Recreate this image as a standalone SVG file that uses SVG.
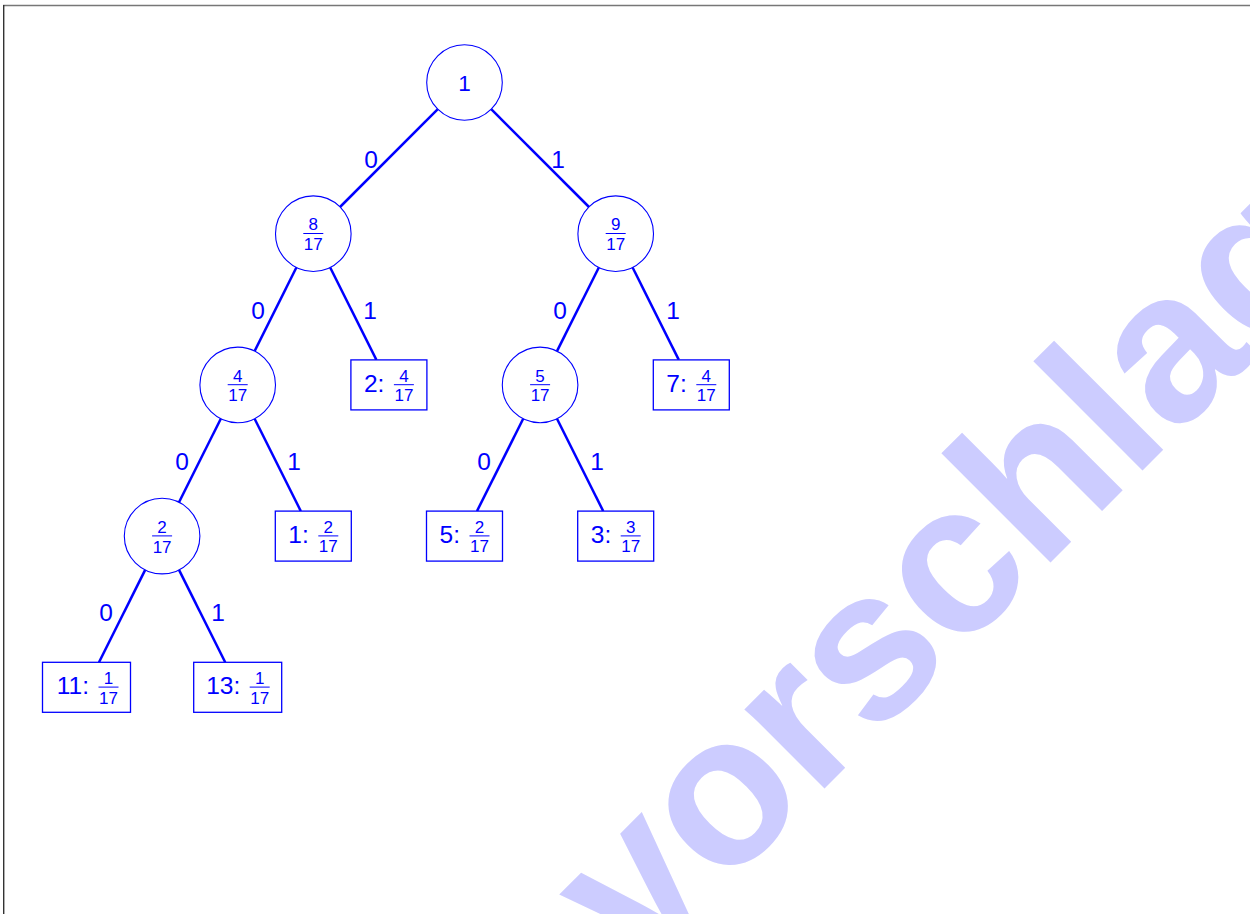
<svg xmlns="http://www.w3.org/2000/svg" width="1250" height="914" viewBox="0 0 1250 914">
  <style>
    .edge { stroke: #0000ff; stroke-width: 2.5; fill: none; stroke-linecap: butt; }
    .inner { fill: #ffffff; stroke: #0000ff; stroke-width: 1.1; }
    .leaf { fill: #ffffff; stroke: #0000ff; stroke-width: 1.3; }
    .lbl { font-family: "Liberation Sans", Arial, sans-serif; font-size: 24.5px; fill: #0000ff; text-anchor: middle; }
    .num { font-family: "Liberation Sans", Arial, sans-serif; font-size: 24.5px; fill: #0000ff; text-anchor: end; }
    .fr { font-family: "Liberation Sans", Arial, sans-serif; font-size: 17px; fill: #0000ff; text-anchor: middle; }
    .bar { stroke: #0000ff; stroke-width: 1; }
    .wm { font-family: "Liberation Sans", Arial, sans-serif; font-weight: bold; font-size: 213px; fill: #ccccff; }
  </style>

  <rect x="0" y="0" width="1250" height="914" fill="#ffffff"/>

  <!-- watermark -->
  <text class="wm" transform="translate(10.6,1602.4) rotate(-45)">Lösungsvorschlag</text>

  <!-- page frame -->
  <line x1="3" y1="5.5" x2="1250" y2="5.5" stroke="#777777" stroke-width="1.6"/>
  <line x1="3.7" y1="5" x2="3.7" y2="914" stroke="#333333" stroke-width="1.4"/>

  <!-- connectors -->
  <g id="edges">
    <line class="edge" x1="437.8" y1="109.2" x2="340.0" y2="207.0"/>
    <line class="edge" x1="491.2" y1="109.2" x2="589.0" y2="207.0"/>
    <line class="edge" x1="296.4" y1="267.5" x2="254.6" y2="351.1"/>
    <line class="edge" x1="330.2" y1="267.5" x2="376.4" y2="359.9"/>
    <line class="edge" x1="598.8" y1="267.5" x2="557.0" y2="351.1"/>
    <line class="edge" x1="632.6" y1="267.5" x2="678.8" y2="359.9"/>
    <line class="edge" x1="220.8" y1="418.7" x2="179.0" y2="502.3"/>
    <line class="edge" x1="254.6" y1="418.7" x2="300.8" y2="511.1"/>
    <line class="edge" x1="523.2" y1="418.7" x2="477.0" y2="511.1"/>
    <line class="edge" x1="557.0" y1="418.7" x2="603.2" y2="511.1"/>
    <line class="edge" x1="145.2" y1="569.9" x2="99.0" y2="662.3"/>
    <line class="edge" x1="179.0" y1="569.9" x2="225.2" y2="662.3"/>
    <!-- bit labels -->
    <text class="lbl" x="371" y="167.6">0</text>
    <text class="lbl" x="558" y="167.6">1</text>
    <text class="lbl" x="258" y="318.8">0</text>
    <text class="lbl" x="370" y="318.8">1</text>
    <text class="lbl" x="560" y="318.8">0</text>
    <text class="lbl" x="673" y="318.8">1</text>
    <text class="lbl" x="182" y="470">0</text>
    <text class="lbl" x="294" y="470">1</text>
    <text class="lbl" x="484" y="470">0</text>
    <text class="lbl" x="597" y="470">1</text>
    <text class="lbl" x="106" y="621.2">0</text>
    <text class="lbl" x="218" y="621.2">1</text>
  </g>

  <!-- inner nodes -->
  <g id="root">
    <circle class="inner" cx="464.5" cy="82.5" r="37.8"/>
    <text class="lbl" x="464.5" y="91" style="font-size:22.5px">1</text>
  </g>
  <g id="n8">
    <circle class="inner" cx="313.3" cy="233.7" r="37.8"/>
    <text class="fr" x="313.3" y="230.3">8</text>
    <line class="bar" x1="303.3" y1="233.5" x2="323.3" y2="233.5"/>
    <text class="fr" x="313.3" y="250.2">17</text>
  </g>
  <g id="n9">
    <circle class="inner" cx="615.7" cy="233.7" r="37.8"/>
    <text class="fr" x="615.7" y="230.3">9</text>
    <line class="bar" x1="605.7" y1="233.5" x2="625.7" y2="233.5"/>
    <text class="fr" x="615.7" y="250.2">17</text>
  </g>
  <g id="n4">
    <circle class="inner" cx="237.7" cy="384.9" r="37.8"/>
    <text class="fr" x="237.7" y="381.5">4</text>
    <line class="bar" x1="227.7" y1="384.7" x2="247.7" y2="384.7"/>
    <text class="fr" x="237.7" y="401.4">17</text>
  </g>
  <g id="n5">
    <circle class="inner" cx="540.1" cy="384.9" r="37.8"/>
    <text class="fr" x="540.1" y="381.5">5</text>
    <line class="bar" x1="530.1" y1="384.7" x2="550.1" y2="384.7"/>
    <text class="fr" x="540.1" y="401.4">17</text>
  </g>
  <g id="n2">
    <circle class="inner" cx="162.1" cy="536.1" r="37.8"/>
    <text class="fr" x="162.1" y="532.7">2</text>
    <line class="bar" x1="152.1" y1="535.9" x2="172.1" y2="535.9"/>
    <text class="fr" x="162.1" y="552.6">17</text>
  </g>

  <!-- leaves -->
  <g id="leaf2">
    <rect class="leaf" x="350.9" y="359.9" width="76" height="50"/>
    <text class="num" x="384.4" y="392">2:</text>
    <text class="fr" x="403.9" y="381.7">4</text>
    <line class="bar" x1="393.9" y1="384.7" x2="413.9" y2="384.7"/>
    <text class="fr" x="403.9" y="401.2">17</text>
  </g>
  <g id="leaf7">
    <rect class="leaf" x="653.3" y="359.9" width="76" height="50"/>
    <text class="num" x="686.8" y="392">7:</text>
    <text class="fr" x="706.3" y="381.7">4</text>
    <line class="bar" x1="696.3" y1="384.7" x2="716.3" y2="384.7"/>
    <text class="fr" x="706.3" y="401.2">17</text>
  </g>
  <g id="leaf1">
    <rect class="leaf" x="275.3" y="511.1" width="76" height="50"/>
    <text class="num" x="308.8" y="543.2">1:</text>
    <text class="fr" x="328.3" y="532.9">2</text>
    <line class="bar" x1="318.3" y1="535.9" x2="338.3" y2="535.9"/>
    <text class="fr" x="328.3" y="552.4">17</text>
  </g>
  <g id="leaf5">
    <rect class="leaf" x="426.5" y="511.1" width="76" height="50"/>
    <text class="num" x="460" y="543.2">5:</text>
    <text class="fr" x="479.5" y="532.9">2</text>
    <line class="bar" x1="469.5" y1="535.9" x2="489.5" y2="535.9"/>
    <text class="fr" x="479.5" y="552.4">17</text>
  </g>
  <g id="leaf3">
    <rect class="leaf" x="577.7" y="511.1" width="76" height="50"/>
    <text class="num" x="611.2" y="543.2">3:</text>
    <text class="fr" x="630.7" y="532.9">3</text>
    <line class="bar" x1="620.7" y1="535.9" x2="640.7" y2="535.9"/>
    <text class="fr" x="630.7" y="552.4">17</text>
  </g>
  <g id="leaf11">
    <rect class="leaf" x="42.5" y="662.3" width="88" height="50"/>
    <text class="num" x="89" y="694.4">11:</text>
    <text class="fr" x="108.5" y="684.1">1</text>
    <line class="bar" x1="98.5" y1="687.1" x2="118.5" y2="687.1"/>
    <text class="fr" x="108.5" y="703.6">17</text>
  </g>
  <g id="leaf13">
    <rect class="leaf" x="193.7" y="662.3" width="88" height="50"/>
    <text class="num" x="240.2" y="694.4">13:</text>
    <text class="fr" x="259.7" y="684.1">1</text>
    <line class="bar" x1="249.7" y1="687.1" x2="269.7" y2="687.1"/>
    <text class="fr" x="259.7" y="703.6">17</text>
  </g>
</svg>
